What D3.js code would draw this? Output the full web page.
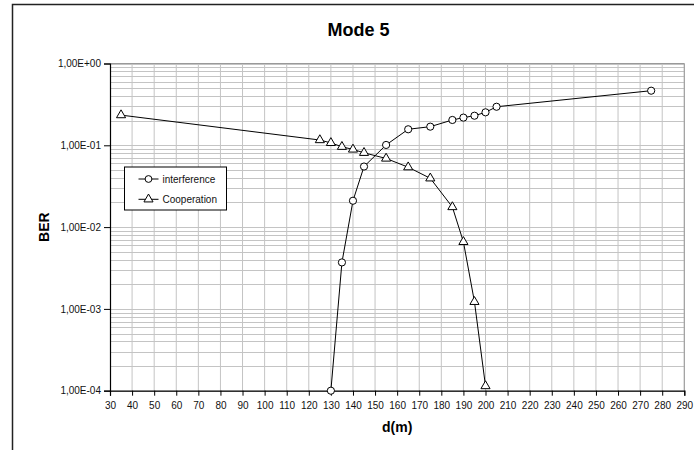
<!DOCTYPE html>
<html>
<head>
<meta charset="utf-8">
<script src="https://cdn.jsdelivr.net/npm/d3@7/dist/d3.min.js"></script>
<style>
  html, body { margin: 0; padding: 0; background: #fff; }
  svg { display: block; font-family: Arial, "Liberation Sans", sans-serif; }
</style>
</head>
<body>
<script>
// BER versus distance for Mode 5
const title = "Mode 5";
const xLabel = "d(m)";
const yLabel = "BER";

const xTicks = d3.range(30, 291, 10);
const yTickValues = [1e0, 1e-1, 1e-2, 1e-3, 1e-4];
const yTickLabels = ["1,00E+00", "1,00E-01", "1,00E-02", "1,00E-03", "1,00E-04"];

const interferenceD   = [130, 135, 140, 145, 155, 165, 175, 185, 190, 195, 200, 205, 275];
const interferenceBER = [1.0e-4, 3.7e-3, 2.1e-2, 5.5e-2, 0.101, 0.157, 0.169, 0.204, 0.218, 0.230, 0.253, 0.296, 0.465];

const cooperationD   = [35, 125, 130, 135, 140, 145, 155, 165, 175, 185, 190, 195, 200];
const cooperationBER = [0.234, 0.116, 0.107, 0.096, 0.089, 0.081, 0.069, 0.054, 0.0395, 0.0176, 0.0066, 0.00122, 0.000114];

const seriesNames = ["interference", "Cooperation"];

const W = 694, H = 450;
const plot = { left: 110, top: 63.5, right: 684.3, bottom: 390.7 };

const svg = d3.select("body").append("svg").attr("width", W).attr("height", H);

// Chart area frame
svg.append("rect")
  .attr("x", 12.5).attr("y", 4.5)
  .attr("width", 720).attr("height", 470)
  .attr("fill", "#fff").attr("stroke", "#222").attr("stroke-width", 1.5);

const x = d3.scaleLinear().domain([30, 290]).range([plot.left, plot.right]);
const y = d3.scaleLog().domain([1e-4, 1]).range([plot.bottom, plot.top]);

// Grid: vertical lines each 10 m
const grid = svg.append("g").attr("stroke", "#c4c4c4").attr("stroke-width", 1);
grid.selectAll("line.v").data(xTicks.slice(1)).join("line")
  .attr("x1", d => x(d)).attr("x2", d => x(d))
  .attr("y1", plot.top).attr("y2", plot.bottom);

// Grid: horizontal lines at 1..9 per decade
const minorVals = [];
for (let e = -4; e < 0; e++) for (let m = 1; m <= 9; m++) minorVals.push(m * Math.pow(10, e));
minorVals.push(1);
grid.selectAll("line.h").data(minorVals).join("line")
  .attr("x1", plot.left).attr("x2", plot.right)
  .attr("y1", d => Math.round(y(d)) + 0.5).attr("y2", d => Math.round(y(d)) + 0.5);

// Plot area border (top/right gray)
svg.append("path")
  .attr("d", `M${plot.left},${plot.top}H${plot.right}V${plot.bottom}`)
  .attr("fill", "none").attr("stroke", "#999").attr("stroke-width", 1);

// Axes
const xAxis = d3.axisBottom(x).tickValues(xTicks).tickSize(5).tickPadding(6).tickFormat(d3.format("d"));
const gx = svg.append("g").attr("transform", `translate(0,${plot.bottom})`).call(xAxis);
const yAxis = d3.axisLeft(y).tickValues(yTickValues).tickSize(6).tickPadding(3)
  .tickFormat((d, i) => yTickLabels[i]);
const gy = svg.append("g").attr("transform", `translate(${plot.left},0)`).call(yAxis);
[gx, gy].forEach(g => {
  g.select(".domain").attr("stroke", "#000").attr("stroke-width", 1.2);
  g.selectAll(".tick line").attr("stroke", "#000");
  g.selectAll(".tick text").attr("fill", "#111").attr("font-size", 10)
    .attr("font-family", "Arial, 'Liberation Sans', sans-serif");
});

// Series lines
const line = d3.line().x(d => x(d[0])).y(d => y(d[1]));
const interference = interferenceD.map((d, i) => [d, interferenceBER[i]]);
const cooperation = cooperationD.map((d, i) => [d, cooperationBER[i]]);

svg.append("path").datum(cooperation).attr("d", line)
  .attr("fill", "none").attr("stroke", "#000").attr("stroke-width", 1);
svg.append("path").datum(interference).attr("d", line)
  .attr("fill", "none").attr("stroke", "#000").attr("stroke-width", 1);

const triPath = d3.symbol().type(d3.symbolTriangle).size(36);

svg.append("g").selectAll("path").data(cooperation).join("path")
  .attr("d", triPath)
  .attr("transform", d => `translate(${x(d[0])},${y(d[1])})`)
  .attr("fill", "#fff").attr("stroke", "#000").attr("stroke-width", 1);

svg.append("g").selectAll("circle").data(interference).join("circle")
  .attr("cx", d => x(d[0])).attr("cy", d => y(d[1])).attr("r", 3.6)
  .attr("fill", "#fff").attr("stroke", "#000").attr("stroke-width", 1);

// Title and axis titles
svg.append("text").attr("x", 358.5).attr("y", 36).attr("text-anchor", "middle")
  .attr("font-size", 18).attr("font-weight", "bold").text(title);
svg.append("text").attr("x", (plot.left + plot.right) / 2).attr("y", 432)
  .attr("text-anchor", "middle").attr("font-size", 14).attr("font-weight", "bold").text(xLabel);
svg.append("text").attr("transform", `translate(49,${(plot.top + plot.bottom) / 2}) rotate(-90)`)
  .attr("text-anchor", "middle").attr("font-size", 14).attr("font-weight", "bold").text(yLabel);

// Legend
const lg = svg.append("g").attr("transform", "translate(124.5,167)");
lg.append("rect").attr("width", 102).attr("height", 43)
  .attr("fill", "#fff").attr("stroke", "#000").attr("stroke-width", 1);
seriesNames.forEach((name, i) => {
  const ry = 12 + i * 20.3;
  lg.append("line").attr("x1", 14).attr("x2", 34).attr("y1", ry).attr("y2", ry)
    .attr("stroke", "#000").attr("stroke-width", 1);
  if (i === 0) {
    lg.append("circle").attr("cx", 24).attr("cy", ry).attr("r", 3.4)
      .attr("fill", "#fff").attr("stroke", "#000");
  } else {
    lg.append("path").attr("d", triPath).attr("transform", `translate(24,${ry})`)
      .attr("fill", "#fff").attr("stroke", "#000");
  }
  lg.append("text").attr("x", 38).attr("y", ry + 3.5).attr("font-size", 10)
    .attr("fill", "#111").text(name);
});
</script>
</body>
</html>
